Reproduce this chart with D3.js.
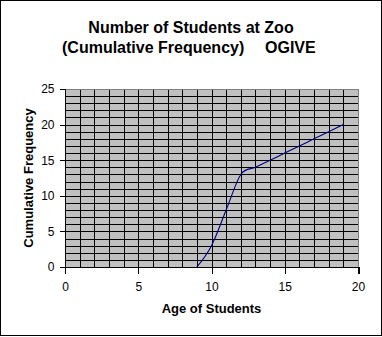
<!DOCTYPE html>
<html><head><meta charset="utf-8">
<script src="https://cdn.jsdelivr.net/npm/d3@7"></script>
<style>
html,body{margin:0;padding:0;background:#fff;}
svg{display:block;}
text{font-family:"Liberation Sans",Arial,sans-serif;fill:#000;}
</style></head>
<body>
<script>
const titleLine1 = "Number of Students at Zoo";
const titleLine2a = "(Cumulative Frequency)";
const titleLine2b = "OGIVE";
const xAxisTitle = "Age of Students";
const yAxisTitle = "Cumulative Frequency";
const ages = [9, 10, 11, 12, 13, 14, 15, 16, 17, 18, 19];
const cumFreq = [0, 3, 8, 13, 14, 15, 16, 17, 18, 19, 20];
const xTicks = [0, 5, 10, 15, 20];
const yTicks = [0, 5, 10, 15, 20, 25];

const W = 382, H = 337;
const svg = d3.select("body").append("svg").attr("width", W).attr("height", H);

// outer border
svg.append("rect").attr("x", 0.5).attr("y", 0.5).attr("width", 381).attr("height", 335)
  .attr("fill", "#fff").attr("stroke", "#000").attr("stroke-width", 1);

const L = 65, R = 358, T = 89, B = 267;
const x = d3.scaleLinear().domain([0, 20]).range([L, R]);
const y = d3.scaleLinear().domain([0, 25]).range([B, T]);

// plot area
svg.append("rect").attr("x", L).attr("y", T).attr("width", R - L).attr("height", B - T)
  .attr("fill", "#c0c0c0");

const grid = svg.append("g").attr("shape-rendering", "crispEdges");
grid.selectAll("line.h").data(d3.range(1, 25)).enter().append("line")
  .attr("x1", L).attr("x2", R)
  .attr("y1", d => Math.round(y(d)) + 0.5).attr("y2", d => Math.round(y(d)) + 0.5)
  .attr("stroke", "#000");
grid.selectAll("line.v").data(d3.range(1, 20)).enter().append("line")
  .attr("y1", T).attr("y2", B)
  .attr("x1", d => Math.round(x(d)) + 0.5).attr("x2", d => Math.round(x(d)) + 0.5)
  .attr("stroke", "#000");
// top & right border grey
grid.append("line").attr("x1", L).attr("x2", R + 1).attr("y1", T + 0.5).attr("y2", T + 0.5).attr("stroke", "#808080");
grid.append("line").attr("x1", R + 0.5).attr("x2", R + 0.5).attr("y1", T).attr("y2", B).attr("stroke", "#808080");

// axes
const xAxis = d3.axisBottom(x).tickValues(xTicks).tickSize(6).tickPadding(9).tickFormat(d3.format("d"));
const yAxis = d3.axisLeft(y).tickValues(yTicks).tickSize(6).tickPadding(5).tickFormat(d3.format("d"));
const gx = svg.append("g").attr("transform", `translate(0,${B + 0.5})`).call(xAxis);
const gy = svg.append("g").attr("transform", `translate(${L + 0.5},0)`).call(yAxis);
[gx, gy].forEach(g => {
  g.select(".domain").attr("stroke", "#000").attr("shape-rendering", "crispEdges");
  g.selectAll(".tick line").attr("stroke", "#000").attr("shape-rendering", "crispEdges");
  g.selectAll("text").attr("font-family", "'Liberation Sans',Arial,sans-serif")
    .attr("font-size", 12).attr("fill", "#000");
});
gx.select(".domain").attr("d", `M${L},6V0H${R + 1}V6`);
gy.select(".domain").attr("d", `M-6,${T}H0V${B}H-6`);

// line
const line = d3.line().x((d, i) => x(ages[i])).y(d => y(d)).curve(d3.curveCatmullRom.alpha(0));
svg.append("path").datum(cumFreq).attr("d", line)
  .attr("fill", "none").attr("stroke", "#000080").attr("stroke-width", 1.1);

// titles
svg.append("text").attr("x", 191).attr("y", 33).attr("text-anchor", "middle")
  .attr("font-size", 16).attr("font-weight", "bold").text(titleLine1);
svg.append("text").attr("x", 62).attr("y", 53).attr("text-anchor", "start")
  .attr("font-size", 16).attr("font-weight", "bold").text(titleLine2a);
svg.append("text").attr("x", 265).attr("y", 53).attr("text-anchor", "start")
  .attr("font-size", 16).attr("font-weight", "bold").text(titleLine2b);
svg.append("text").attr("x", (L + R) / 2).attr("y", 313).attr("text-anchor", "middle")
  .attr("font-size", 13).attr("font-weight", "bold").text(xAxisTitle);
svg.append("text").attr("transform", `translate(33,${(T + B) / 2}) rotate(-90)`)
  .attr("text-anchor", "middle").attr("font-size", 13).attr("font-weight", "bold").text(yAxisTitle);
</script>
</body></html>
